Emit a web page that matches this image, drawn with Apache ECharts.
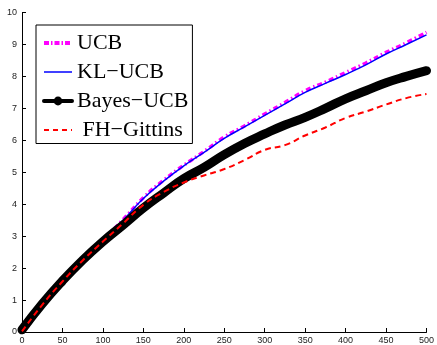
<!DOCTYPE html>
<html>
<head>
<meta charset="utf-8">
<script src="https://cdn.jsdelivr.net/npm/echarts@6/dist/echarts.min.js"></script>
<style>
  html, body { margin: 0; padding: 0; background: #fff; }
  #main { width: 437px; height: 345px; }
</style>
</head>
<body>
<div id="main"></div>
<script>
// horizon (x) values shared by all curves
const xs = [0, 25, 50, 75, 100, 125, 150, 175, 200, 225, 250, 275, 300, 325, 350, 375, 400, 425, 450, 475, 500];

const ucb = [0.07, 0.9, 1.62, 2.28, 2.88, 3.52, 4.2, 4.75, 5.22, 5.65, 6.1, 6.45, 6.82, 7.18, 7.55, 7.82, 8.12, 8.42, 8.75, 9.05, 9.38];
const klUcb = [0.07, 0.9, 1.62, 2.28, 2.87, 3.5, 4.18, 4.72, 5.2, 5.62, 6.06, 6.42, 6.78, 7.14, 7.5, 7.78, 8.06, 8.36, 8.7, 9.0, 9.3];
const bayesUcb = [0.07, 0.88, 1.6, 2.25, 2.83, 3.35, 3.88, 4.35, 4.8, 5.15, 5.55, 5.9, 6.2, 6.48, 6.72, 7.0, 7.3, 7.55, 7.8, 8.0, 8.18];
const fhGittins = [0.02, 0.85, 1.58, 2.24, 2.83, 3.4, 3.98, 4.38, 4.68, 4.9, 5.1, 5.38, 5.7, 5.85, 6.15, 6.4, 6.7, 6.9, 7.12, 7.32, 7.45];

const names = ["UCB", "KL\u2212UCB", "Bayes\u2212UCB", "FH\u2212Gittins"];

const pairs = (ys) => xs.map((x, i) => [x, ys[i]]);

const chart = echarts.init(document.getElementById("main"));

const axisFont = { fontFamily: "Liberation Sans", fontSize: 9, color: "#222" };
const hideDot = { opacity: 0 };

chart.setOption({
  animation: false,
  backgroundColor: "#fff",
  grid: { left: 22, right: 9, top: 12.5, bottom: 12.7 },
  xAxis: {
    type: "value",
    min: 0,
    max: 500,
    interval: 50,
    axisLine: { lineStyle: { color: "#000", width: 1 } },
    axisTick: { inside: true, length: 4, lineStyle: { color: "#000" } },
    axisLabel: Object.assign({ margin: 4 }, axisFont),
    splitLine: { show: false },
  },
  yAxis: {
    type: "value",
    min: 0,
    max: 10,
    interval: 1,
    axisLine: { show: true, lineStyle: { color: "#000", width: 1 } },
    axisTick: { show: true, inside: true, length: 4, lineStyle: { color: "#000" } },
    axisLabel: Object.assign({ margin: 5 }, axisFont),
    splitLine: { show: false },
  },
  legend: {
    orient: "vertical",
    left: 36,
    top: 25,
    padding: [7, 4, 2.5, 6],
    itemWidth: 28,
    itemHeight: 11,
    itemGap: 7,
    backgroundColor: "#fff",
    borderColor: "#000",
    borderWidth: 1,
    borderRadius: 0,
    textStyle: { fontFamily: "Liberation Serif", fontSize: 22, color: "#000", lineHeight: 21 },
    formatter: (name) => (name === names[3] ? " " + name : name),
    data: [
      { name: names[0], itemStyle: hideDot, lineStyle: { width: 4, type: [5, 2, 1.5, 2] } },
      { name: names[1], itemStyle: hideDot, lineStyle: { width: 1.5 } },
      { name: names[2], lineStyle: { width: 4 } },
      { name: names[3], itemStyle: hideDot, lineStyle: { width: 2, type: [5, 4] } },
    ],
  },
  series: [
    {
      name: names[0],
      type: "line",
      data: pairs(ucb),
      symbol: "none",
      smooth: true,
      lineStyle: { color: "#ff00ff", width: 3.5, type: [5, 3, 1.5, 3] },
      itemStyle: { color: "#ff00ff" },
    },
    {
      name: names[1],
      type: "line",
      data: pairs(klUcb),
      symbol: "none",
      smooth: true,
      lineStyle: { color: "#0000ff", width: 1.5 },
      itemStyle: { color: "#0000ff" },
    },
    {
      name: names[2],
      type: "line",
      data: pairs(bayesUcb),
      symbol: "circle",
      showSymbol: false,
      smooth: true,
      lineStyle: { color: "#000", width: 9, cap: "round", join: "round" },
      itemStyle: { color: "#000" },
    },
    {
      name: names[3],
      type: "line",
      data: pairs(fhGittins),
      symbol: "none",
      smooth: true,
      lineStyle: { color: "#ff0000", width: 2, type: [6, 4] },
      itemStyle: { color: "#ff0000" },
    },
  ],
});
</script>
</body>
</html>
